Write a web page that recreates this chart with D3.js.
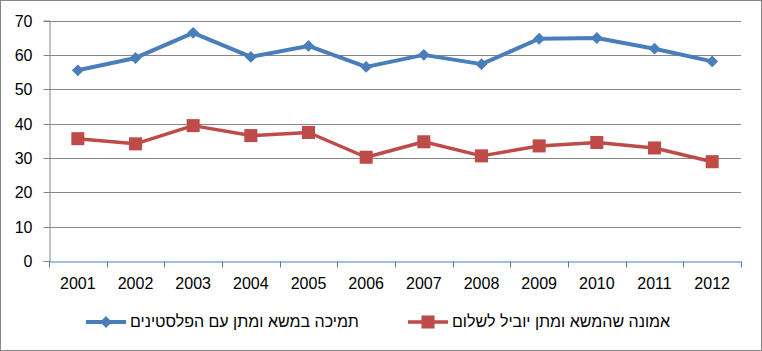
<!DOCTYPE html>
<html>
<head>
<meta charset="utf-8">
<script src="https://cdn.jsdelivr.net/npm/d3@7"></script>
<style>
  body { margin: 0; background: #fff; }
  text { font-family: "Liberation Sans", Arial, sans-serif; fill: #000; }
</style>
</head>
<body>
<svg id="chart" width="762" height="351"></svg>
<script>
'use strict';

const years = ['2001', '2002', '2003', '2004', '2005', '2006', '2007', '2008', '2009', '2010', '2011', '2012'];
const supportValues = [55.5, 59.1, 66.4, 59.4, 62.6, 56.5, 60.0, 57.3, 64.7, 64.9, 61.8, 58.1];
const beliefValues = [35.6, 34.1, 39.4, 36.5, 37.4, 30.2, 34.7, 30.6, 33.5, 34.5, 32.9, 28.9];
const seriesNames = ['תמיכה במשא ומתן עם הפלסטינים', 'אמונה שהמשא ומתן יוביל לשלום'];
const yTicks = [0, 10, 20, 30, 40, 50, 60, 70];

const svg = d3.select('#chart');
const margin = { left: 49, right: 21, top: 20.5, bottom: 90 };
const width = 762, height = 351;

// outer frame
svg.append('rect')
  .attr('x', 0.5).attr('y', 0.5)
  .attr('width', width - 1).attr('height', height - 1)
  .attr('fill', '#fff').attr('stroke', '#868686');

const xScale = d3.scaleBand()
  .domain(years)
  .range([margin.left, width - margin.right]);

const yScale = d3.scaleLinear()
  .domain([0, 70])
  .range([height - margin.bottom, margin.top]);

// gridlines
svg.append('g')
  .selectAll('line')
  .data(yTicks.filter(d => d > 0))
  .join('line')
  .attr('x1', margin.left).attr('x2', width - margin.right)
  .attr('y1', d => Math.round(yScale(d)) + 0.5)
  .attr('y2', d => Math.round(yScale(d)) + 0.5)
  .attr('stroke', '#868686').attr('stroke-width', 1);

// y axis
const yAxis = d3.axisLeft(yScale).tickValues(yTicks).tickSize(6).tickPadding(11);
const yG = svg.append('g')
  .attr('transform', `translate(${margin.left + 0.5}, 0)`)
  .call(yAxis);
yG.select('.domain').attr('stroke', '#868686');
yG.selectAll('.tick line').attr('stroke', '#868686');
yG.selectAll('.tick text').style('font-size', '16px').attr('fill', '#000');
yG.selectAll('.tick')
  .attr('transform', d => `translate(0, ${Math.round(yScale(d)) + 0.5})`);

// x axis
const xAxis = d3.axisBottom(xScale).tickSize(0).tickPadding(16);
const xG = svg.append('g')
  .attr('transform', `translate(0, ${Math.round(yScale(0)) + 0.5})`)
  .call(xAxis);
xG.select('.domain').attr('stroke', '#4a7ebb');
xG.selectAll('.tick text').style('font-size', '16px').attr('fill', '#000');
xG.selectAll('.sep')
  .data(years.concat(['end']))
  .join('line')
  .attr('class', 'sep')
  .attr('x1', (d, i) => Math.round(margin.left + i * xScale.step()) + 0.5)
  .attr('x2', (d, i) => Math.round(margin.left + i * xScale.step()) + 0.5)
  .attr('y1', 0).attr('y2', 6)
  .attr('stroke', '#4a7ebb');

const cx = d => xScale(d) + xScale.bandwidth() / 2;

const line = d3.line()
  .x((d, i) => cx(years[i]))
  .y(d => yScale(d));

const diamond = d3.symbol().type(d3.symbolDiamond2).size(90);
const square = d3.symbol().type(d3.symbolSquare).size(170);

// support series
svg.append('path')
  .datum(supportValues)
  .attr('d', line)
  .attr('fill', 'none')
  .attr('stroke', '#4a7ebb')
  .attr('stroke-width', 4)
  .attr('stroke-linejoin', 'round');
svg.append('g')
  .selectAll('path')
  .data(supportValues)
  .join('path')
  .attr('d', diamond)
  .attr('transform', (d, i) => `translate(${cx(years[i])}, ${yScale(d)})`)
  .attr('fill', '#4a7ebb');

// belief series
svg.append('path')
  .datum(beliefValues)
  .attr('d', line)
  .attr('fill', 'none')
  .attr('stroke', '#be4b48')
  .attr('stroke-width', 3.5)
  .attr('stroke-linejoin', 'round');
svg.append('g')
  .selectAll('path')
  .data(beliefValues)
  .join('path')
  .attr('d', square)
  .attr('transform', (d, i) => `translate(${cx(years[i])}, ${yScale(d)})`)
  .attr('fill', '#be4b48');

// legend
const legendY = 322;
const legendItems = [
  { name: seriesNames[0], color: '#4a7ebb', x: 86, sym: diamond, width: 4 },
  { name: seriesNames[1], color: '#be4b48', x: 408, sym: square, width: 3.5 }
];
const lg = svg.append('g');
legendItems.forEach(item => {
  lg.append('line')
    .attr('x1', item.x).attr('x2', item.x + 40)
    .attr('y1', legendY).attr('y2', legendY)
    .attr('stroke', item.color).attr('stroke-width', item.width);
  lg.append('path')
    .attr('d', item.sym)
    .attr('transform', `translate(${item.x + 20}, ${legendY})`)
    .attr('fill', item.color);
  lg.append('text')
    .attr('x', item.x + 44)
    .attr('y', legendY + 5)
    .attr('direction', 'rtl')
    .attr('text-anchor', 'end')
    .style('font-size', '16px')
    .text(item.name);
});
</script>
</body>
</html>
